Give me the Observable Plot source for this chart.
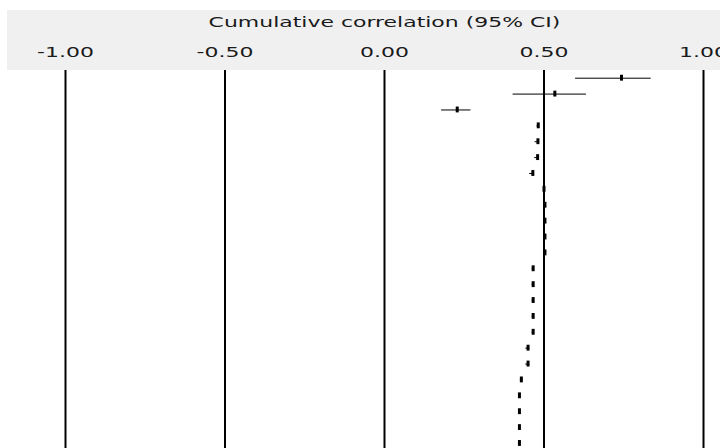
<!DOCTYPE html>
<html>
<head>
<meta charset="utf-8">
<script src="https://cdn.jsdelivr.net/npm/d3@7"></script>
<script src="https://cdn.jsdelivr.net/npm/@observablehq/plot@0.6"></script>
<style>
  html, body { margin: 0; padding: 0; background: #fff; }
  #wrap { position: relative; width: 720px; height: 448px; overflow: hidden; }
  #band { position: absolute; left: 7px; top: 10px; width: 713px; height: 60px; background: #f0f0f0; }
  #chart { position: absolute; left: 0; top: 0; }
  #chart svg { background: transparent !important; }
</style>
</head>
<body>
<div id="wrap"><div id="band"></div><div id="chart"></div></div>
<script>
const tickValues = [-1, -0.5, 0, 0.5, 1];
const rows = d3.range(24);
const estimates = [0.743, 0.534, 0.228, 0.482, 0.481, 0.480, 0.465, 0.500, 0.503, 0.503, 0.503, 0.503, 0.466, 0.466, 0.466, 0.466, 0.466, 0.450, 0.450, 0.429, 0.423, 0.423, 0.423, 0.423];
const lower =     [0.599, 0.403, 0.179, 0.478, 0.472, 0.471, 0.455, 0.500, 0.500, 0.500, 0.500, 0.500, 0.463, 0.463, 0.463, 0.463, 0.463, 0.443, 0.443, 0.426, 0.420, 0.420, 0.420, 0.420];
const upper =     [0.836, 0.633, 0.271, 0.486, 0.485, 0.484, 0.468, 0.500, 0.506, 0.506, 0.506, 0.506, 0.469, 0.469, 0.469, 0.469, 0.469, 0.455, 0.455, 0.432, 0.426, 0.426, 0.426, 0.426];
const title = "Cumulative correlation (95% CI)";

const data = rows.map(i => ({row: i, est: estimates[i], lo: lower[i], hi: upper[i]}));

const chart = Plot.plot({
  width: 720,
  height: 448,
  marginTop: 70,
  marginBottom: 0,
  marginLeft: 48,
  marginRight: 0,
  style: {fontFamily: "DejaVu Sans", fontSize: "14px", color: "#000", background: "transparent"},
  x: {domain: [-1, 1], range: [65, 703]},
  y: {type: "band", domain: rows, range: [69.76, 450.9], padding: 0, round: false, axis: null},
  marks: [
    Plot.axisX(tickValues, {
      anchor: "top",
      tickSize: 0,
      tickPadding: 14,
      tickFormat: d => d.toFixed(2),
      label: title,
      labelAnchor: "center",
      labelArrow: "none",
      labelOffset: 53,
      fontSize: 14
    }),
    Plot.ruleX(tickValues, {stroke: "#000", strokeWidth: 2}),
    Plot.ruleY(data, {y: "row", x1: "lo", x2: "hi", stroke: "#000", strokeWidth: 1}),
    Plot.tickX(data, {x: "est", y: "row", stroke: "#000", strokeWidth: 3, insetTop: 5, insetBottom: 5})
  ]
});
// stretch glyphs horizontally around their anchor, like the reference's wide bitmap font
chart.querySelectorAll("text").forEach(t => {
  const tr = t.getAttribute("transform") || "";
  const xa = t.getAttribute("x");
  let x = 0;
  if (xa !== null && /^-?[\d.]+$/.test(xa.trim())) { x = +xa; t.removeAttribute("x"); }
  t.setAttribute("transform", `${tr} translate(${x},0) scale(1.57,1)`.trim());
  t.setAttribute("fill", "#1a1a1a");
});
document.getElementById("chart").appendChild(chart);
</script>
</body>
</html>
